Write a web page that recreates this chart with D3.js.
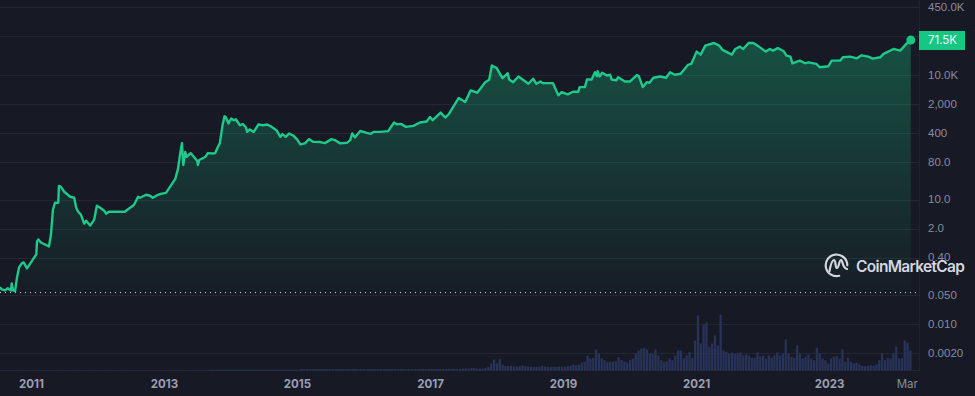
<!DOCTYPE html>
<html><head><meta charset="utf-8">
<script src="https://cdn.jsdelivr.net/npm/d3@7"></script>
<style>
html,body{margin:0;padding:0;background:#171924;overflow:hidden}
svg{display:block;font-family:Inter,"Noto Sans",sans-serif}
</style></head><body><svg id="c" width="975" height="396"></svg>
<script>
const years=[2010.53,2010.56,2010.61,2010.65,2010.70,2010.71,2010.73,2010.76,2010.79,2010.82,2010.86,2010.89,2010.94,2011.00,2011.08,2011.09,2011.11,2011.15,2011.21,2011.27,2011.30,2011.33,2011.36,2011.41,2011.42,2011.45,2011.50,2011.59,2011.65,2011.68,2011.71,2011.75,2011.80,2011.83,2011.89,2011.95,2011.99,2012.04,2012.10,2012.13,2012.17,2012.26,2012.41,2012.49,2012.55,2012.61,2012.64,2012.73,2012.79,2012.83,2012.91,2012.95,2013.03,2013.11,2013.17,2013.21,2013.24,2013.27,2013.29,2013.32,2013.34,2013.40,2013.45,2013.50,2013.51,2013.53,2013.62,2013.66,2013.74,2013.77,2013.81,2013.84,2013.88,2013.91,2013.93,2013.97,2014.01,2014.05,2014.08,2014.11,2014.14,2014.19,2014.23,2014.25,2014.29,2014.35,2014.42,2014.49,2014.55,2014.62,2014.69,2014.75,2014.78,2014.83,2014.88,2014.95,2015.00,2015.05,2015.12,2015.18,2015.24,2015.35,2015.42,2015.52,2015.57,2015.65,2015.75,2015.80,2015.83,2015.87,2015.95,2016.05,2016.11,2016.15,2016.25,2016.37,2016.46,2016.50,2016.56,2016.64,2016.75,2016.85,2016.95,2017.00,2017.04,2017.16,2017.23,2017.28,2017.43,2017.53,2017.61,2017.71,2017.83,2017.89,2017.93,2018.00,2018.09,2018.17,2018.19,2018.25,2018.33,2018.48,2018.55,2018.60,2018.66,2018.69,2018.85,2018.93,2018.98,2019.07,2019.15,2019.23,2019.25,2019.33,2019.36,2019.43,2019.48,2019.51,2019.52,2019.55,2019.59,2019.66,2019.71,2019.73,2019.80,2019.83,2019.93,2020.01,2020.11,2020.14,2020.20,2020.26,2020.30,2020.36,2020.46,2020.55,2020.61,2020.68,2020.77,2020.88,2020.93,2021.01,2021.07,2021.14,2021.27,2021.35,2021.40,2021.54,2021.59,2021.66,2021.71,2021.79,2021.86,2021.94,2022.05,2022.11,2022.16,2022.23,2022.32,2022.36,2022.42,2022.45,2022.56,2022.64,2022.69,2022.81,2022.86,2022.99,2023.04,2023.17,2023.21,2023.32,2023.42,2023.49,2023.59,2023.66,2023.77,2023.82,2023.97,2024.07,2024.17,2024.23];
const prices=[0.077,0.069,0.065,0.073,0.065,0.096,0.065,0.062,0.134,0.233,0.291,0.308,0.221,0.308,0.479,0.98,1.10,0.93,0.83,0.745,1.45,5.75,8.47,8.47,21.7,20.5,15.6,11.8,11.2,6.43,5.15,4.37,2.65,3.13,2.38,3.31,7.18,6.43,5.45,4.61,5.15,5.15,5.15,6.43,7.59,11.8,11.2,13.2,12.5,11.2,13.2,13.9,14.7,22.9,31.9,55.5,120,233,69,142,108,134,108,86,69,91,108,134,131,134,187,233,631,1038,982,693,914,832,879,745,631,667,565,436,498,436,656,631,656,574,479,330,384,330,398,349,286,217,230,291,251,247,233,291,275,230,237,275,398,320,460,412,390,436,436,453,733,667,678,574,607,733,774,1000,832,1274,966,1159,2851,2286,4365,3846,6902,7889,17400,15300,8610,11350,8020,6900,9460,6320,8340,6320,7180,6530,6530,3310,3970,3500,4060,4060,5240,5240,8020,8020,12000,9620,12670,9460,11600,10000,10400,8020,7590,9100,7180,7180,10170,9620,5240,6900,6680,8810,9460,8810,12000,10400,11000,18070,19100,37700,31900,52500,60900,52500,41400,31900,43700,49700,43700,60900,60900,50500,37700,43700,39800,46200,38300,30200,28600,19700,22900,19700,20800,19100,15800,16700,22900,22900,27500,28600,26000,30700,28600,25600,27500,33200,43700,39800,59600,71500];
const volumes=[
0.3,0.3,0.3,0.3,0.3,0.3,0.3,0.3,0.3,0.3,0.3,0.3,0.3,0.3,0.3,0.3,0.3,0.3,0.3,0.3,0.3,0.3,0.3,0.3,0.3,0.3,0.3,0.3,0.3,0.3,0.3,0.3,0.3,0.3,0.3,0.3,0.3,0.3,0.3,0.3,0.3,0.3,0.3,0.3,0.3,0.3,0.3,0.3,0.3,0.3,0.3,0.3,0.3,0.3,0.3,0.3,0.3,0.3,0.3,0.3,0.3,0.3,0.3,0.3,0.3,0.3,0.3,0.3,0.3,0.3,0.3,0.3,0.3,0.3,0.3,
0.8,0.8,0.8,0.8,0.8,0.8,0.8,0.8,0.8,0.8,0.8,0.8,0.8,0.8,0.8,0.8,0.8,0.8,0.8,0.8,0.8,0.8,0.8,0.8,0.8,0.8,0.8,0.8,0.8,0.8,0.8,0.8,
1.5,1.4,1.5,1.5,1.4,1.5,1.4,1.5,1.5,1.4,1.5,1.5,1.4,1.5,1.5,1.4,1.5,1.5,1.4,1.5,1.4,1.5,1.5,1.4,1.5,1.5,1.4,1.5,1.5,1.4,1.5,1.4,1.5,1.5,1.4,1.5,1.5,1.4,1.5,1.5,1.4,1.5,1.5,1.5,1.4,1.5,1.5,1.5,1.4,1.5,1.5,1.6,1.6,1.5,1.6,
1.7,1.7,2,2,2,2.5,2.5,2,2,2,2.5,3.5,
7,11,7,11.6,6,4.5,4.5,4.5,4,4,4,5,4.5,4,3.7,3.7,3.7,4,4.5,4,3.7,3.7,3.7,3.7,4,
3.7,3.7,4.3,4.7,6,5.3,6,8,8.7,15,12,12.7,21,17,12,10.3,8.7,8.7,8.7,9.3,13.3,10.3,8.7,8,10.3,12,17,20,22,22.7,21,17,17,21,15,10.3,8.7,9.3,12,10.3,15,20,20,12,15,18.7,12.7,30,55,27,46,48,24,27,35,25,56,20,18.7,17,18,
17,17,18,15,16,15,12.7,12.7,18,14,15,12,15,12.7,15,18,14.7,17,31,17,13.7,12.7,25,17,12,13.7,16,12,10.3,22.7,17,12,10.3,7,12,13.7,14.7,12,21,8.7,12.7,8.7,7,8,6,4.7,4.7,4.7,5.3,4.7,6,10.3,17,10.3,12.7,12,17,23.7,12,12,30,28,20];
const yTicks=[450000,90000,10000,2000,400,80,10,2,0.4,0.05,0.01,0.002];
const yLabels=["450.0K","","10.0K","2,000","400","80.0","10.0","2.0","0.40","0.050","0.010","0.0020"];
const xTicks=[2011,2013,2015,2017,2019,2021,2023,2024.17];
const xLabels=["2011","2013","2015","2017","2019","2021","2023","Mar"];
const startPrice=0.0575, lastPrice=71500, lastLabel="71.5K";

const svg=d3.select("#c");
const x=d3.scaleLinear().domain([2011,2023]).range([31,829]);
const y=d3.scaleLog().domain([450000,0.002]).range([7,353]);
const vol=d3.scaleLinear().domain([0,56]).range([370.5,314.5]);
const step=2.83,right=911.5;
const band=d3.scaleBand().domain(d3.range(volumes.length)).range([right-volumes.length*step,right]).paddingInner(0.2);
const rows=years.map((t,i)=>({t,p:prices[i]}));

const defs=svg.append("defs");
const g=defs.append("linearGradient").attr("id","fill").attr("gradientUnits","userSpaceOnUse")
  .attr("x1",0).attr("x2",0).attr("y1",y(lastPrice)).attr("y2",y(startPrice));
g.append("stop").attr("offset",0).attr("stop-color","#16c784").attr("stop-opacity",0.32);
g.append("stop").attr("offset",1).attr("stop-color","#16c784").attr("stop-opacity",0.02);

// grid
const yAxis=d3.axisRight(y).tickValues(yTicks).tickFormat((d,i)=>yLabels[i]).tickSize(0).tickPadding(0);
const ya=svg.append("g").attr("transform","translate(928,-1)").call(yAxis);
ya.select(".domain").remove();
ya.selectAll("text").attr("fill","#858ca2").attr("font-size",11.5).attr("x",0).attr("dy","0.36em");
svg.append("g").selectAll("line").data(yTicks).join("line")
  .attr("x1",0).attr("x2",919).attr("y1",d=>Math.round(y(d))+.5).attr("y2",d=>Math.round(y(d))+.5)
  .attr("stroke","#232735").attr("stroke-width",1);
svg.append("line").attr("x1",919.5).attr("x2",919.5).attr("y1",0).attr("y2",371).attr("stroke","#202330");
svg.append("line").attr("x1",0).attr("x2",919).attr("y1",370.5).attr("y2",370.5).attr("stroke","#222633");

// area + line
const area=d3.area().x(d=>x(d.t)).y0(y(startPrice)).y1(d=>y(d.p)).curve(d3.curveLinear);
const line=d3.line().x(d=>x(d.t)).y(d=>y(d.p)).curve(d3.curveLinear);
svg.append("path").datum(rows).attr("d",area).attr("fill","url(#fill)");
svg.append("line").attr("x1",0).attr("x2",917).attr("y1",y(startPrice)).attr("y2",y(startPrice))
  .attr("stroke","#d8dbe5").attr("stroke-width",1).attr("stroke-dasharray","1 4");
svg.append("path").datum(rows).attr("d",line).attr("fill","none").attr("stroke","#1fc98b").attr("stroke-width",2.4).attr("stroke-linejoin","round");
svg.append("circle").attr("cx",x(years[years.length-1])).attr("cy",y(lastPrice)).attr("r",4.5).attr("fill","#16c784");

// volume
svg.append("g").selectAll("rect").data(volumes).join("rect")
  .attr("x",(d,i)=>band(i)).attr("width",band.bandwidth())
  .attr("y",d=>vol(d)).attr("height",d=>vol(0)-vol(d)).attr("fill","#283359");

// x axis
const xAxis=d3.axisBottom(x).tickValues(xTicks).tickFormat((d,i)=>xLabels[i]).tickSize(0).tickPadding(0);
const xa=svg.append("g").attr("transform","translate(0,388)").call(xAxis);
xa.select(".domain").remove();
xa.selectAll("text").attr("y",0).attr("dy",0).attr("font-size",11.5).attr("font-family","Inter,sans-serif")
  .attr("font-weight",(d,i)=>i<7?700:400).attr("fill",(d,i)=>i<7?"#9a9fb2":"#858ca2");

// price tag
svg.append("rect").attr("x",919).attr("y",31).attr("width",46).attr("height",19).attr("fill","#16c784");
svg.append("text").attr("x",928).attr("y",y(lastPrice)).attr("dy","0.36em").attr("font-size",11.5).attr("fill","#f1f3f7").text(lastLabel);

// watermark
const wm=svg.append("g").attr("fill","none").attr("stroke","#d5d7e0").attr("stroke-width",2.2).attr("stroke-linecap","round").attr("stroke-linejoin","round");
wm.append("path").attr("d",d3.arc()({innerRadius:10.8,outerRadius:10.8,startAngle:Math.PI*0.92,endAngle:Math.PI*2.5})).attr("transform","translate(836.5,265.3)");
wm.append("path").attr("d","M829.5 271 C831 263 832.5 260 834 260 C836 260 835 268 837 268 C839 268 839 260 841 260 C843 260 842 268 847 269");
svg.append("text").attr("x",856).attr("y",272).attr("font-size",15.5).attr("font-weight",600).attr("fill","#d5d7e0").attr("textLength",109).text("CoinMarketCap");
</script></body></html>
